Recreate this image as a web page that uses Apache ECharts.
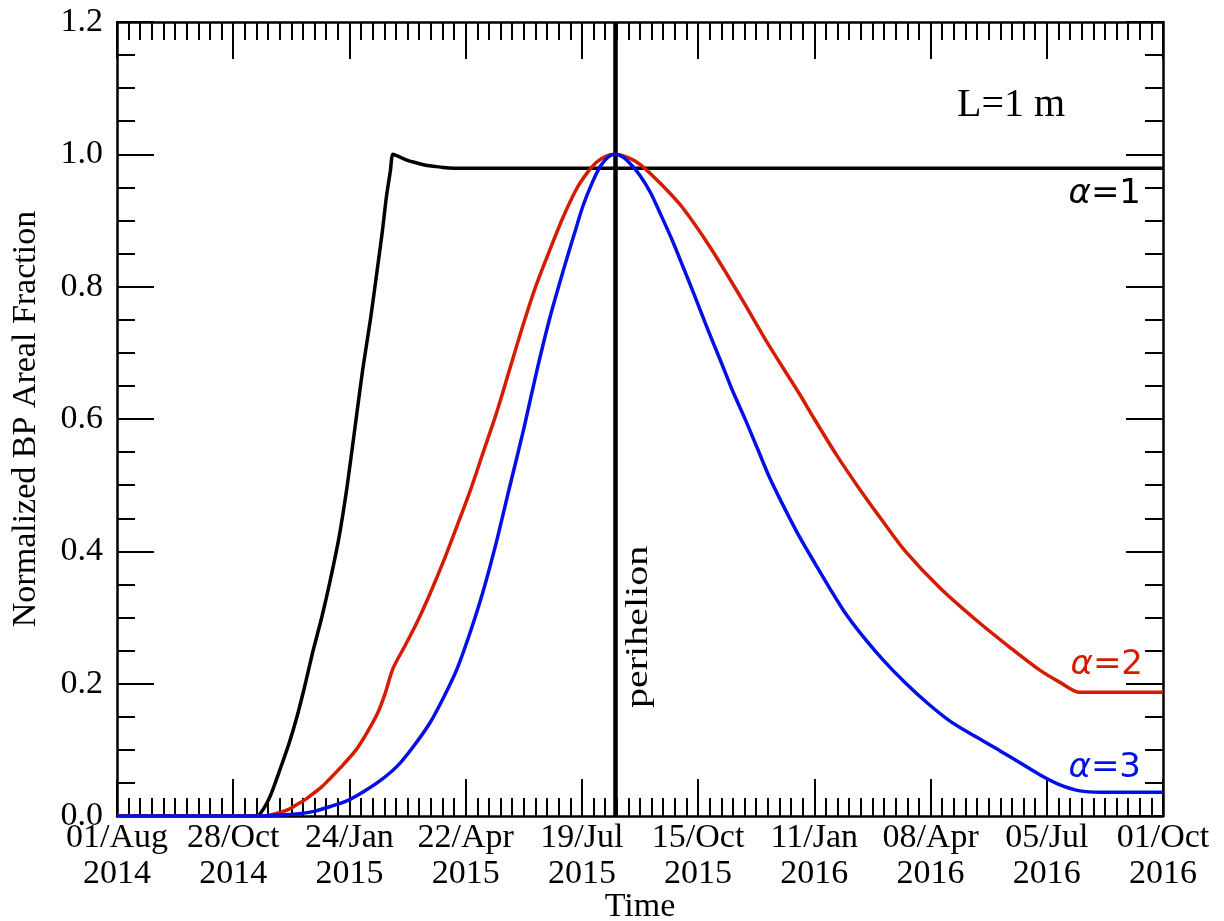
<!DOCTYPE html>
<html>
<head>
<meta charset="utf-8">
<script src="https://cdn.jsdelivr.net/npm/echarts@6/dist/echarts.min.js"></script>
<style>
html,body{margin:0;padding:0;background:#fff;overflow:hidden;}
#chart{width:1224px;height:921px;}
</style>
</head>
<body>
<div id="chart"></div>
<script>
// x values are days since 01/Aug/2014
const xTickLabels = ['01/Aug\n2014','28/Oct\n2014','24/Jan\n2015','22/Apr\n2015','19/Jul\n2015','15/Oct\n2015','11/Jan\n2016','08/Apr\n2016','05/Jul\n2016','01/Oct\n2016'];
const xTickStep = 88;
const xMax = 792;
const perihelionDay = 377;

const alpha1Days = [0, 100, 106, 111, 116, 123, 130, 136, 142, 148, 155, 161, 168, 174, 180, 186, 192, 197, 201, 204, 207, 209, 214, 220, 227, 233, 240, 247, 255, 300, 400, 500, 600, 700, 792];
const alpha1Vals = [0, 0, 0, 0.011, 0.03, 0.068, 0.108, 0.148, 0.195, 0.246, 0.3, 0.352, 0.42, 0.495, 0.584, 0.674, 0.752, 0.825, 0.885, 0.936, 0.975, 1.0, 0.996, 0.991, 0.987, 0.984, 0.982, 0.980, 0.979, 0.979, 0.979, 0.979, 0.979, 0.979, 0.979];

const alpha2Days = [0, 105, 110, 117, 123, 130, 136, 142, 148, 155, 161, 171, 181, 189, 197, 203, 209, 218, 227, 237, 247, 257, 267, 277, 287, 297, 307, 317, 328, 338, 348, 356, 363, 370, 377, 387, 396, 411, 428, 449, 472, 494, 517, 528, 545, 563, 580, 597, 623, 650, 676, 699, 714, 729, 760, 792];
const alpha2Vals = [0, 0, 0, 0.002, 0.005, 0.01, 0.017, 0.024, 0.033, 0.044, 0.056, 0.077, 0.10, 0.125, 0.154, 0.185, 0.223, 0.257, 0.292, 0.336, 0.384, 0.436, 0.489, 0.548, 0.607, 0.673, 0.739, 0.80, 0.857, 0.906, 0.948, 0.972, 0.988, 0.997, 1.0, 0.995, 0.985, 0.957, 0.92, 0.86, 0.785, 0.71, 0.637, 0.60, 0.545, 0.492, 0.445, 0.40, 0.345, 0.297, 0.255, 0.22, 0.202, 0.187, 0.187, 0.187];

const alpha3Days = [0, 110, 120, 136, 149, 161, 174, 186, 199, 212, 224, 237, 247, 257, 267, 277, 287, 297, 308, 318, 328, 338, 346, 353, 360, 366, 372, 377, 383, 389, 396, 404, 411, 420, 429, 438, 447, 457, 466, 476, 485, 494, 506, 517, 529, 540, 551, 563, 580, 597, 614, 631, 650, 669, 684, 699, 714, 729, 745, 760, 792];
const alpha3Vals = [0, 0, 0.001, 0.003, 0.007, 0.014, 0.023, 0.036, 0.053, 0.075, 0.104, 0.141, 0.178, 0.22, 0.275, 0.338, 0.412, 0.495, 0.585, 0.674, 0.755, 0.825, 0.878, 0.923, 0.958, 0.982, 0.996, 1.0, 0.996, 0.985, 0.968, 0.942, 0.912, 0.872, 0.828, 0.783, 0.737, 0.688, 0.643, 0.598, 0.555, 0.512, 0.463, 0.421, 0.38, 0.343, 0.308, 0.276, 0.236, 0.201, 0.17, 0.143, 0.12, 0.098, 0.08, 0.062, 0.047, 0.038, 0.036, 0.036, 0.036];

const yMin = 0, yMax = 1.2, yStep = 0.2;

function pairs(xs, ys){ return xs.map((x,i)=>[x, ys[i]]); }

const serif = 'Liberation Serif';
const chart = echarts.init(document.getElementById('chart'), null, {renderer:'canvas', width:1224, height:921});

const axisLineStyle = {color:'#000', width:2.5};
const tickCommon = {show:true, inside:true, length:37, lineStyle:{color:'#000', width:2}};
const minorCommon = {show:true, length:18, lineStyle:{color:'#000', width:2}};

const option = {
  backgroundColor:'#fff',
  animation:false,
  grid:{left:117, right:61, top:22, height:794, containLabel:false, outerBoundsMode:'none'},
  xAxis:[{
    type:'value', min:0, max:xMax, interval:xTickStep, position:'bottom',
    name:'Time', nameLocation:'middle', nameGap:74, nameMoveOverlap:false,
    nameTextStyle:{fontFamily:serif, fontSize:34, color:'#000'},
    axisLine:{show:true, onZero:false, lineStyle:axisLineStyle},
    axisTick:tickCommon,
    minorTick:Object.assign({splitNumber:10}, minorCommon),
    splitLine:{show:false},
    axisLabel:{show:true, margin:4, fontFamily:serif, fontSize:34, color:'#000', lineHeight:36,
      showMinLabel:true, showMaxLabel:true, hideOverlap:false,
      formatter:(v)=>xTickLabels[Math.round(v/xTickStep)] || ''}
  },{
    type:'value', min:0, max:xMax, interval:xTickStep, position:'top',
    axisLine:{show:true, onZero:false, lineStyle:axisLineStyle},
    axisTick:tickCommon,
    minorTick:Object.assign({splitNumber:10}, minorCommon),
    splitLine:{show:false}, axisLabel:{show:false}
  }],
  yAxis:[{
    type:'value', min:yMin, max:yMax, interval:yStep, position:'left',
    name:'Normalized BP Areal Fraction', nameLocation:'middle', nameGap:74, nameRotate:90, nameMoveOverlap:false,
    nameTextStyle:{fontFamily:serif, fontSize:34, color:'#000'},
    axisLine:{show:true, onZero:false, lineStyle:axisLineStyle},
    axisTick:tickCommon,
    minorTick:Object.assign({splitNumber:4}, minorCommon),
    splitLine:{show:false},
    axisLabel:{show:true, margin:14, fontFamily:serif, fontSize:34, color:'#000',
      formatter:(v)=>v.toFixed(1)}
  },{
    type:'value', min:yMin, max:yMax, interval:yStep, position:'right',
    axisLine:{show:true, onZero:false, lineStyle:axisLineStyle},
    axisTick:tickCommon,
    minorTick:Object.assign({splitNumber:4}, minorCommon),
    splitLine:{show:false}, axisLabel:{show:false}
  }],
  series:[
    {type:'line', name:'alpha1', data:pairs(alpha1Days, alpha1Vals), showSymbol:false, smooth:0.25,
     lineStyle:{color:'#000', width:3.5, join:'round'}, z:3,
     markLine:{silent:true, symbol:['none','none'], label:{show:false},
       lineStyle:{color:'#000', width:4.5, type:'solid'}, data:[{xAxis:perihelionDay}]}},
    {type:'line', name:'alpha2', data:pairs(alpha2Days, alpha2Vals), showSymbol:false, smooth:0.3,
     lineStyle:{color:'#d41c00', width:3.5, join:'round'}, z:4},
    {type:'line', name:'alpha3', data:pairs(alpha3Days, alpha3Vals), showSymbol:false, smooth:0.3,
     lineStyle:{color:'#0010e6', width:3.5, join:'round'}, z:5}
  ],
  graphic:[
    {type:'text', z:10, style:{x:957, y:105, text:'L=1 m', font:'40px "Liberation Serif"', fill:'#000', verticalAlign:'middle', align:'left'}},
    {type:'text', z:10, x:623, y:708, rotation:Math.PI/2, scaleX:1.25,
     style:{x:0, y:0, text:'perihelion', font:'32px "Liberation Serif"', fill:'#000', align:'left', verticalAlign:'top'}},
    {type:'text', z:10, style:{x:1141, y:194, text:'{a|α}=1', align:'right', verticalAlign:'middle', font:'34px "DejaVu Sans"', fill:'#000',
      rich:{a:{fontStyle:'italic', fontFamily:'DejaVu Sans', fontSize:34, fill:'#000'}}}},
    {type:'text', z:10, style:{x:1143, y:665, text:'{a|α}=2', align:'right', verticalAlign:'middle', font:'34px "DejaVu Sans"', fill:'#d41c00',
      rich:{a:{fontStyle:'italic', fontFamily:'DejaVu Sans', fontSize:34, fill:'#d41c00'}}}},
    {type:'text', z:10, style:{x:1141, y:768, text:'{a|α}=3', align:'right', verticalAlign:'middle', font:'34px "DejaVu Sans"', fill:'#0010e6',
      rich:{a:{fontStyle:'italic', fontFamily:'DejaVu Sans', fontSize:34, fill:'#0010e6'}}}}
  ]
};
chart.setOption(option);
</script>
</body>
</html>
